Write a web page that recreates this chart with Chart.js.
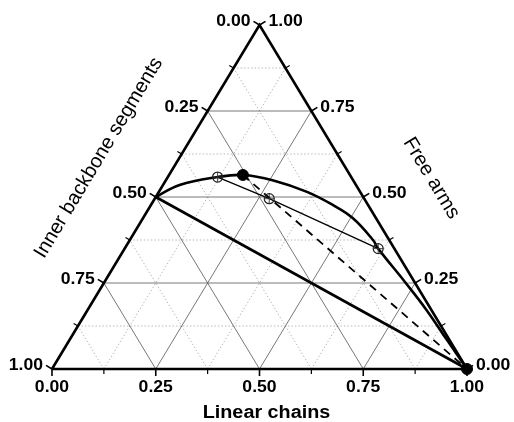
<!DOCTYPE html>
<html>
<head>
<meta charset="utf-8">
<script src="https://cdn.jsdelivr.net/npm/chart.js@4/dist/chart.umd.min.js"></script>
<style>
  html, body { margin: 0; padding: 0; background: #fff; }
  #c { display: block; }
</style>
</head>
<body>
<canvas id="c" width="514" height="422"></canvas>
<script>
// Ternary composition: L = linear chains, F = free arms, inner backbone = 1 - L - F

// Phase boundary (thick curve)
const boundaryL = [0, 0.040, 0.120, 0.178, 0.257, 0.357, 0.438, 0.505, 0.586, 0.611, 0.724, 0.814, 0.910, 1];
const boundaryF = [0.5, 0.535, 0.558, 0.564, 0.549, 0.515, 0.477, 0.439, 0.375, 0.350, 0.253, 0.174, 0.084, 0];

// Tie line through the three open points
const tieL = [0.120, 0.276, 0.611];
const tieF = [0.558, 0.495, 0.350];

// Critical point (filled)
const peakL = [0.178];
const peakF = [0.564];

// Dilution line from the critical point to the pure linear-chain corner
const dilutionL = [0.178, 1];
const dilutionF = [0.564, 0];

// Straight mixing line from the 50/50 star to the pure linear-chain corner
const mixingL = [0, 1];
const mixingF = [0.5, 0];

// Pure linear-chain corner (filled)
const cornerL = [1];
const cornerF = [0];

// Axis ticks
const majorTicks = [0, 0.25, 0.5, 0.75, 1];
const tickLabels = ['0.00', '0.25', '0.50', '0.75', '1.00'];
const minorTicks = [0.125, 0.375, 0.625, 0.875];

// Project (L, F) onto the plot plane
const proj = (L, F) => ({ x: L + F * 0.5, y: F });
const toPoints = (Ls, Fs) => Ls.map((L, i) => proj(L, Fs[i]));

// Grid lines: constant F, constant L, constant inner backbone
function gridSegments(values) {
  const segs = [];
  values.forEach(v => {
    segs.push([proj(0, v), proj(1 - v, v)]);      // constant free arms
    segs.push([proj(v, 0), proj(v, 1 - v)]);      // constant linear chains
    segs.push([proj(1 - v, 0), proj(0, 1 - v)]);  // constant inner backbone
  });
  return segs;
}

const datasets = [];
let ord = 0;

// markers and curves on top
datasets.push({ data: toPoints(peakL, peakF), pointStyle: 'circle', pointRadius: 5.5,
  backgroundColor: '#000', borderColor: '#000', borderWidth: 1, showLine: false, order: ord++ });
datasets.push({ data: toPoints(cornerL, cornerF), pointStyle: 'circle', pointRadius: 5.5,
  backgroundColor: '#000', borderColor: '#000', borderWidth: 1, showLine: false, order: ord++ });
datasets.push({ data: toPoints(tieL, tieF), pointStyle: 'cross', pointRadius: 5,
  borderColor: '#333', borderWidth: 0.9, showLine: false, order: ord++ });
datasets.push({ data: toPoints(tieL, tieF), pointStyle: 'circle', pointRadius: 5,
  backgroundColor: 'rgba(0,0,0,0)', borderColor: '#222', borderWidth: 1.2, showLine: false, order: ord++ });
datasets.push({ data: toPoints(tieL, tieF), showLine: true, pointRadius: 0,
  borderColor: '#000', borderWidth: 1.3, order: ord++ });
datasets.push({ data: toPoints(dilutionL, dilutionF), showLine: true, pointRadius: 0,
  borderColor: '#000', borderWidth: 1.8, borderDash: [8, 6], order: ord++ });
datasets.push({ data: toPoints(boundaryL, boundaryF), showLine: true, pointRadius: 0,
  borderColor: '#000', borderWidth: 2.6, tension: 0.4, order: ord++ });
datasets.push({ data: toPoints(mixingL, mixingF), showLine: true, pointRadius: 0,
  borderColor: '#000', borderWidth: 2.6, order: ord++ });

// triangle frame
datasets.push({ data: [proj(0, 0), proj(1, 0), proj(0, 1), proj(0, 0)], showLine: true, pointRadius: 0,
  borderColor: '#000', borderWidth: 2.6, borderJoinStyle: 'miter', order: ord++ });

// major grid
gridSegments(majorTicks.slice(1, -1)).forEach(seg => {
  datasets.push({ data: seg, showLine: true, pointRadius: 0, borderColor: '#555', borderWidth: 0.8, order: ord++ });
});
// minor grid
gridSegments(minorTicks).forEach(seg => {
  datasets.push({ data: seg, showLine: true, pointRadius: 0, borderColor: '#a8a8a8', borderWidth: 0.8,
    borderDash: [1.5, 2], order: ord++ });
});

datasets.forEach(d => { d.clip = false; });

// ticks, tick labels and axis titles
const ternaryFrame = {
  id: 'ternaryFrame',
  afterDatasetsDraw(chart) {
    const { ctx, scales: { x, y } } = chart;
    const P = (L, F) => { const q = proj(L, F); return { x: x.getPixelForValue(q.x), y: y.getPixelForValue(q.y) }; };
    const BL = P(0, 0), BR = P(1, 0), T = P(0, 1);
    const unit = (a, b) => { const dx = b.x - a.x, dy = b.y - a.y, l = Math.hypot(dx, dy); return { x: dx / l, y: dy / l }; };
    const tl = unit(BL, T), tr = unit(BR, T);
    const nLeft = { x: tl.y, y: -tl.x };
    const nRight = { x: -tr.y, y: tr.x };
    const nBottom = { x: 0, y: 1 };

    const axes = [
      { pos: v => P(v, 0), n: nBottom, side: 'bottom' },
      { pos: v => P(0, 1 - v), n: nLeft, side: 'left' },
      { pos: v => P(1 - v, v), n: nRight, side: 'right' }
    ];

    ctx.save();
    ctx.strokeStyle = '#000';
    ctx.fillStyle = '#000';
    axes.forEach(ax => {
      ctx.lineWidth = 1.2;
      minorTicks.forEach(v => {
        const p = ax.pos(v);
        ctx.beginPath(); ctx.moveTo(p.x, p.y); ctx.lineTo(p.x + ax.n.x * 5, p.y + ax.n.y * 5); ctx.stroke();
      });
      ctx.lineWidth = 1.6;
      majorTicks.forEach((v, i) => {
        const p = ax.pos(v);
        const e = { x: p.x + ax.n.x * 7, y: p.y + ax.n.y * 7 };
        ctx.beginPath(); ctx.moveTo(p.x, p.y); ctx.lineTo(e.x, e.y); ctx.stroke();
        ctx.font = 'bold 16px "Liberation Sans", Arial, sans-serif';
        ctx.save();
        if (ax.side === 'bottom') {
          ctx.textAlign = 'center'; ctx.textBaseline = 'middle';
          ctx.translate(p.x, p.y + 19);
        } else if (ax.side === 'left') {
          ctx.textAlign = 'right'; ctx.textBaseline = 'middle';
          ctx.translate(e.x - 3, e.y);
        } else {
          ctx.textAlign = 'left'; ctx.textBaseline = 'middle';
          ctx.translate(e.x + 3, e.y);
        }
        ctx.scale(1.1, 1);
        ctx.fillText(tickLabels[i], 0, 0);
        ctx.restore();
      });
    });

    // bottom title
    ctx.save();
    ctx.font = 'bold 18px "Liberation Sans", Arial, sans-serif';
    ctx.textAlign = 'center'; ctx.textBaseline = 'middle';
    ctx.translate((BL.x + BR.x) / 2 + 7, BL.y + 44);
    ctx.scale(1.1, 1);
    ctx.fillText('Linear chains', 0, 0);
    ctx.restore();

    // left title
    const mL = { x: (BL.x + T.x) / 2, y: (BL.y + T.y) / 2 };
    ctx.save();
    ctx.font = '20px "Liberation Sans", Arial, sans-serif';
    ctx.textAlign = 'center'; ctx.textBaseline = 'middle';
    ctx.translate(mL.x + nLeft.x * 69 + tl.x * 4, mL.y + nLeft.y * 69 + tl.y * 4);
    ctx.rotate(Math.atan2(T.y - BL.y, T.x - BL.x));
    ctx.fillText('Inner backbone segments', 0, 0);
    ctx.restore();

    // right title
    const mR = { x: (BR.x + T.x) / 2, y: (BR.y + T.y) / 2 };
    ctx.save();
    ctx.font = '20px "Liberation Sans", Arial, sans-serif';
    ctx.textAlign = 'center'; ctx.textBaseline = 'middle';
    ctx.translate(mR.x + nRight.x * 68 - tr.x * 19, mR.y + nRight.y * 68 - tr.y * 19);
    ctx.rotate(Math.atan2(BR.y - T.y, BR.x - T.x));
    ctx.fillText('Free arms', 0, 0);
    ctx.restore();

    ctx.restore();
  }
};

new Chart(document.getElementById('c'), {
  type: 'scatter',
  data: { datasets },
  options: {
    responsive: false,
    animation: false,
    devicePixelRatio: 1,
    layout: { padding: { left: 52, right: 47, top: 25, bottom: 53 } },
    scales: {
      x: { type: 'linear', min: 0, max: 1, display: false },
      y: { type: 'linear', min: 0, max: 1, display: false }
    },
    plugins: { legend: { display: false }, tooltip: { enabled: false } },
    events: []
  },
  plugins: [ternaryFrame]
});
</script>
</body>
</html>
